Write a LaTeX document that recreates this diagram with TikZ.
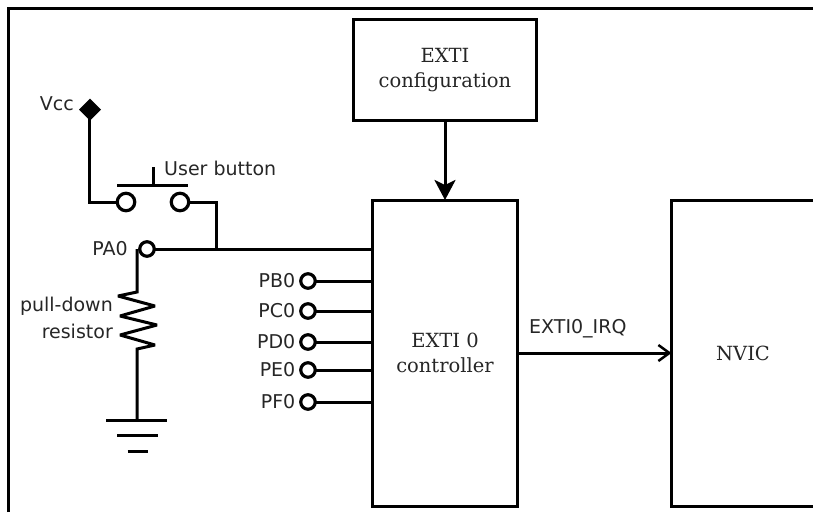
\documentclass[tikz,border=0pt]{standalone}
\usepackage{fontspec}
\setmainfont{DejaVu Serif}
\setsansfont{DejaVu Sans}
\usetikzlibrary{shapes.geometric,arrows.meta}
\tikzset{
  wire/.style={line width=3pt},
  blockbox/.style={draw,line width=3pt,outer sep=0pt,inner sep=0pt,anchor=north west},
  serif/.style={font=\fontsize{19.5}{25}\selectfont,align=center,inner sep=0pt,text=black!85},
  lab/.style={font=\sffamily\fontsize{19}{24}\selectfont,inner sep=0pt,text=black!85},
  pin/.style={circle,draw,fill=white,line width=3.2pt,minimum size=14.5pt,inner sep=0pt,outer sep=0pt},
  bigpin/.style={pin,minimum size=17.5pt},
  vcc/.style={diamond,fill=black,minimum size=22pt,inner sep=0pt,outer sep=0pt}
}
\begin{document}
\begin{tikzpicture}[x=1pt,y=-1pt,line cap=butt]
\useasboundingbox (0,0) rectangle (813,512);
% outer frame
\coordinate (fa) at (8.5,512);
\coordinate (fb) at (8.5,8.5);
\coordinate (fc) at (813,8.5);
\draw[wire] (fa) -- (fb) -- (fc);
% blocks
\node[blockbox,minimum width=183pt,minimum height=100.5pt] (cfg) at (353.5,19.5) {};
\node[serif] (cfgt) at (445,70.5) {EXTI\\configuration};
\node[blockbox,minimum width=145pt,minimum height=306.5pt] (ctl) at (372.5,200) {};
\node[serif] (ctlt) at (445,352.5) {EXTI 0\\controller};
\begin{scope}
\clip (0,0) rectangle (813,512);
\node[blockbox,minimum width=200pt,minimum height=306.5pt] (nvic) at (671.5,200) {};
\end{scope}
\node[serif] (nvict) at (743,353) {NVIC};
% arrows
\draw[wire,-{Stealth[length=20pt,width=21pt,inset=5pt]}] (cfg.south -| ctl.north) -- (ctl.north);
\coordinate (irqa) at (ctl.east |- 0,353);
\coordinate (irqb) at (nvic.west |- 0,353);
\draw[wire,-{Straight Barb[length=11pt,width=16pt,line width=2.5pt]}] (irqa) -- (irqb);
\node[lab,anchor=west] (irq) at (529,329) {EXTI0\_IRQ};
% Vcc and button
\node[vcc] (v) at (90,109.5) {};
\node[lab,anchor=east] (vl) at (74,104) {Vcc};
\node[bigpin] (b1) at (126,202) {};
\node[bigpin] (b2) at (180,202) {};
\coordinate (c1) at (89.5,202);
\coordinate (c2) at (216,202);
\coordinate (c3) at (216,249);
\draw[wire,line join=miter] (v.center -| c1) -- (c1) -- (b1.west);
\draw[wire,line join=miter] (b2.east) -- (c2) -- (c3);
\coordinate (ba) at (117,185);
\coordinate (bb) at (188,185);
\coordinate (bm) at (153,185);
\coordinate (bt) at (153,167);
\draw[wire] (ba) -- (bb);
\draw[wire] (bm) -- (bt);
\node[lab,anchor=west] (ub) at (164,168) {User button};
% resistor & ground
\coordinate (r0) at (137,249);
\coordinate (g0) at (137,420);
\draw[wire,line join=miter,miter limit=3] (r0) -- (137,292) -- (118,296) -- (155,306) -- (120,316) -- (157,325) -- (120,335) -- (155,345) -- (137,349) -- (g0);
% PA0
\node[pin] (pa) at (147,249) {};
\node[lab,anchor=east] (pal) at (128,249) {PA0};
\draw[wire] (pa.east) -- (ctl.west |- pa.east);
\coordinate (g1) at (106,420.5);
\coordinate (g2) at (167,420.5);
\coordinate (g3) at (117,435.5);
\coordinate (g4) at (158,435.5);
\coordinate (g5) at (127.5,451);
\coordinate (g6) at (147.5,451);
\draw[wire] (g1) -- (g2);
\draw[wire] (g3) -- (g4);
\draw[wire] (g5) -- (g6);
\node[lab,anchor=east] (rl1) at (113,306) {pull-down};
\node[lab,anchor=east] (rl2) at (113,331) {resistor};
% ports
\foreach \n/\y in {PB0/281,PC0/311,PD0/342,PE0/370,PF0/402}{
  \node[pin] (\n) at (308,\y) {};
  \node[lab,anchor=east] (\n l) at (295.5,\y) {\n};
  \draw[wire] (\n.east) -- (ctl.west |- \n.east);
}
\end{tikzpicture}
\end{document}
